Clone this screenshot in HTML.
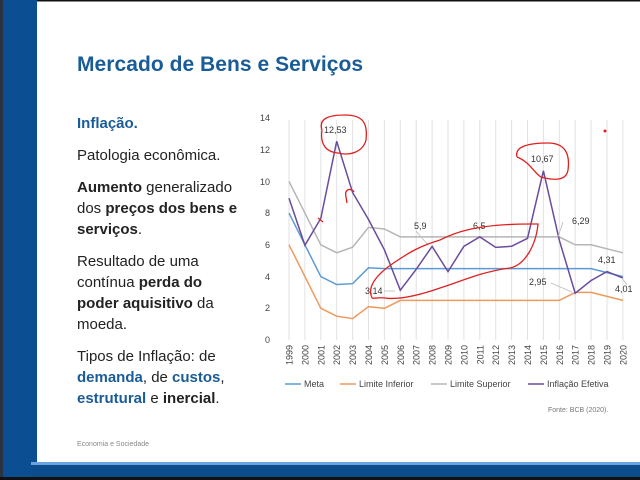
<!DOCTYPE html>
<html><head><meta charset="utf-8"><style>
html,body{margin:0;padding:0;background:#fff}
svg{display:block}
</style></head><body>
<svg width="640" height="480" viewBox="0 0 640 480" xmlns="http://www.w3.org/2000/svg" font-family="Liberation Sans, sans-serif">
<rect x="0" y="0" width="640" height="480" fill="#fff"/>
<rect x="0" y="0" width="640" height="1.5" fill="#111"/>
<rect x="0" y="0" width="3" height="480" fill="#2a3340"/>
<rect x="3" y="0" width="34" height="480" fill="#0b4f92"/>
<rect x="31" y="462" width="609" height="3" fill="#6aa4e0"/>
<rect x="31" y="465" width="609" height="12" fill="#0a4c8c"/>
<rect x="0" y="477" width="640" height="3" fill="#111"/>

<text x="77" y="71" font-size="21" font-weight="bold" fill="#1a5c97" textLength="286">Mercado de Bens e Serviços</text>
<g font-size="15" fill="#222">
<text x="77" y="128" font-weight="bold" fill="#1a5c97">Inflação.</text>
<text x="77" y="160">Patologia econômica.</text>
<text x="77" y="192"><tspan font-weight="bold">Aumento</tspan> generalizado</text>
<text x="77" y="213">dos <tspan font-weight="bold">preços dos bens e</tspan></text>
<text x="77" y="234" font-weight="bold">serviços<tspan font-weight="normal">.</tspan></text>
<text x="77" y="266">Resultado de uma</text>
<text x="77" y="287">contínua <tspan font-weight="bold">perda do</tspan></text>
<text x="77" y="308"><tspan font-weight="bold">poder aquisitivo</tspan> da</text>
<text x="77" y="329">moeda.</text>
<text x="77" y="361">Tipos de Inflação: de</text>
<text x="77" y="382"><tspan font-weight="bold" fill="#1a5c97">demanda</tspan>, de <tspan font-weight="bold" fill="#1a5c97">custos</tspan>,</text>
<text x="77" y="403"><tspan font-weight="bold" fill="#1a5c97">estrutural</tspan> e <tspan font-weight="bold">inercial</tspan>.</text>
</g>
<text x="77" y="446" font-size="7" fill="#888">Economia e Sociedade</text>

<g stroke="#e2e2e2" stroke-width="1">
<line x1="289" y1="120" x2="289" y2="340"/><line x1="304.9" y1="120" x2="304.9" y2="340"/><line x1="320.8" y1="120" x2="320.8" y2="340"/><line x1="336.7" y1="120" x2="336.7" y2="340"/><line x1="352.6" y1="120" x2="352.6" y2="340"/><line x1="368.5" y1="120" x2="368.5" y2="340"/><line x1="384.4" y1="120" x2="384.4" y2="340"/><line x1="400.3" y1="120" x2="400.3" y2="340"/><line x1="416.2" y1="120" x2="416.2" y2="340"/><line x1="432.1" y1="120" x2="432.1" y2="340"/><line x1="448" y1="120" x2="448" y2="340"/><line x1="463.9" y1="120" x2="463.9" y2="340"/><line x1="479.8" y1="120" x2="479.8" y2="340"/><line x1="495.7" y1="120" x2="495.7" y2="340"/><line x1="511.6" y1="120" x2="511.6" y2="340"/><line x1="527.5" y1="120" x2="527.5" y2="340"/><line x1="543.4" y1="120" x2="543.4" y2="340"/><line x1="559.3" y1="120" x2="559.3" y2="340"/><line x1="575.2" y1="120" x2="575.2" y2="340"/><line x1="591.1" y1="120" x2="591.1" y2="340"/><line x1="607" y1="120" x2="607" y2="340"/><line x1="622.9" y1="120" x2="622.9" y2="340"/>
</g>
<g font-size="9" fill="#444" text-anchor="end">
<text x="270" y="343">0</text><text x="270" y="311">2</text><text x="270" y="280">4</text><text x="270" y="248">6</text><text x="270" y="216">8</text><text x="270" y="185">10</text><text x="270" y="153">12</text><text x="270" y="121">14</text>
</g>
<g font-size="9" fill="#444" text-anchor="end">
<text transform="translate(292.5,345) rotate(-90)">1999</text><text transform="translate(308.4,345) rotate(-90)">2000</text><text transform="translate(324.3,345) rotate(-90)">2001</text><text transform="translate(340.2,345) rotate(-90)">2002</text><text transform="translate(356.1,345) rotate(-90)">2003</text><text transform="translate(372,345) rotate(-90)">2004</text><text transform="translate(387.9,345) rotate(-90)">2005</text><text transform="translate(403.8,345) rotate(-90)">2006</text><text transform="translate(419.7,345) rotate(-90)">2007</text><text transform="translate(435.6,345) rotate(-90)">2008</text><text transform="translate(451.5,345) rotate(-90)">2009</text><text transform="translate(467.4,345) rotate(-90)">2010</text><text transform="translate(483.3,345) rotate(-90)">2011</text><text transform="translate(499.2,345) rotate(-90)">2012</text><text transform="translate(515.1,345) rotate(-90)">2013</text><text transform="translate(531,345) rotate(-90)">2014</text><text transform="translate(546.9,345) rotate(-90)">2015</text><text transform="translate(562.8,345) rotate(-90)">2016</text><text transform="translate(578.7,345) rotate(-90)">2017</text><text transform="translate(594.6,345) rotate(-90)">2018</text><text transform="translate(610.5,345) rotate(-90)">2019</text><text transform="translate(626.4,345) rotate(-90)">2020</text>
</g>
<g fill="none" stroke-width="1.5">
<polyline stroke="#b5b5b5" points="289,181.4 304.9,213.1 320.8,244.8 336.7,252.8 352.6,247.2 368.5,227.4 384.4,229 400.3,236.9 416.2,236.9 432.1,236.9 448,236.9 463.9,236.9 479.8,236.9 495.7,236.9 511.6,236.9 527.5,236.9 543.4,236.9 559.3,236.9 575.2,244.8 591.1,244.8 607,248.8 622.9,252.8"/>
<polyline stroke="#ee9a5c" points="289,244.8 304.9,276.6 320.8,308.3 336.7,316.2 352.6,318.6 368.5,306.7 384.4,308.3 400.3,300.4 416.2,300.4 432.1,300.4 448,300.4 463.9,300.4 479.8,300.4 495.7,300.4 511.6,300.4 527.5,300.4 543.4,300.4 559.3,300.4 575.2,292.4 591.1,292.4 607,296.4 622.9,300.4"/>
<polyline stroke="#5b9bd5" points="289,213.1 304.9,244.8 320.8,276.6 336.7,284.5 352.6,283.7 368.5,267.8 384.4,268.6 400.3,268.6 416.2,268.6 432.1,268.6 448,268.6 463.9,268.6 479.8,268.6 495.7,268.6 511.6,268.6 527.5,268.6 543.4,268.6 559.3,268.6 575.2,268.6 591.1,268.6 607,272.6 622.9,276.6"/>
<polyline stroke="#6a4c9c" points="289,198.2 304.9,245.3 320.8,218.4 336.7,141.3 352.6,192.5 368.5,219.5 384.4,249.8 400.3,290.2 416.2,269.3 432.1,246.4 448,271.6 463.9,246.3 479.8,236.9 495.7,247.4 511.6,246.3 527.5,238.3 543.4,170.8 559.3,240.2 575.2,293.2 591.1,280.5 607,271.6 622.9,278.1"/>
</g>
<g stroke="#bbb" stroke-width="0.8" fill="none">
<line x1="384" y1="291" x2="395" y2="291"/><line x1="416" y1="231" x2="428" y2="245"/><line x1="551" y1="283" x2="572" y2="292"/><line x1="563" y1="222" x2="558" y2="237"/><line x1="622" y1="278" x2="627" y2="285"/>
</g>
<g font-size="9" fill="#333">
<text x="324" y="133">12,53</text><text x="531" y="162">10,67</text><text x="365" y="294">3,14</text><text x="414" y="229">5,9</text><text x="473" y="229">6,5</text><text x="572" y="224">6,29</text><text x="529" y="285">2,95</text><text x="598" y="263">4,31</text><text x="615" y="292">4,01</text>
</g>
<g font-size="9" fill="#444">
<line x1="285" y1="384" x2="301" y2="384" stroke="#5b9bd5" stroke-width="1.5"/><text x="304" y="387">Meta</text>
<line x1="340" y1="384" x2="356" y2="384" stroke="#ee9a5c" stroke-width="1.5"/><text x="359" y="387">Limite Inferior</text>
<line x1="431" y1="384" x2="447" y2="384" stroke="#b5b5b5" stroke-width="1.5"/><text x="450" y="387">Limite Superior</text>
<line x1="528" y1="384" x2="544" y2="384" stroke="#6a4c9c" stroke-width="1.5"/><text x="547" y="387">Inflação Efetiva</text>
</g>
<text x="548" y="412" font-size="7" fill="#777">Fonte: BCB (2020).</text>

<g fill="none" stroke="#e02020" stroke-width="1.3">
<path d="M322,130 C318,118 330,115 345,115 C362,115 368,122 366,140 C363,152 350,156 338,153 C325,152 320,143 322,130"/>
<path d="M517,157 C514,146 530,143 548,143 C566,143 570,155 568,170 C566,182 552,180 541,177 C535,174 530,162 517,157"/>
<path d="M346,197 C344,188 352,188 354,192 M346,197 L347,203"/>
<path d="M318,218 L323,222"/>
<path d="M372,298 C366,285 380,272 395,262 C410,252 420,246 440,240 C450,235 470,224 530,224 L538,224 C536,245 525,265 510,268 C480,272 460,282 440,288 C420,295 400,300 385,298 C378,297 374,299 372,298"/>
<circle cx="605" cy="131" r="1.5" fill="#e02020" stroke="none"/>
</g>
</svg>
</body></html>
